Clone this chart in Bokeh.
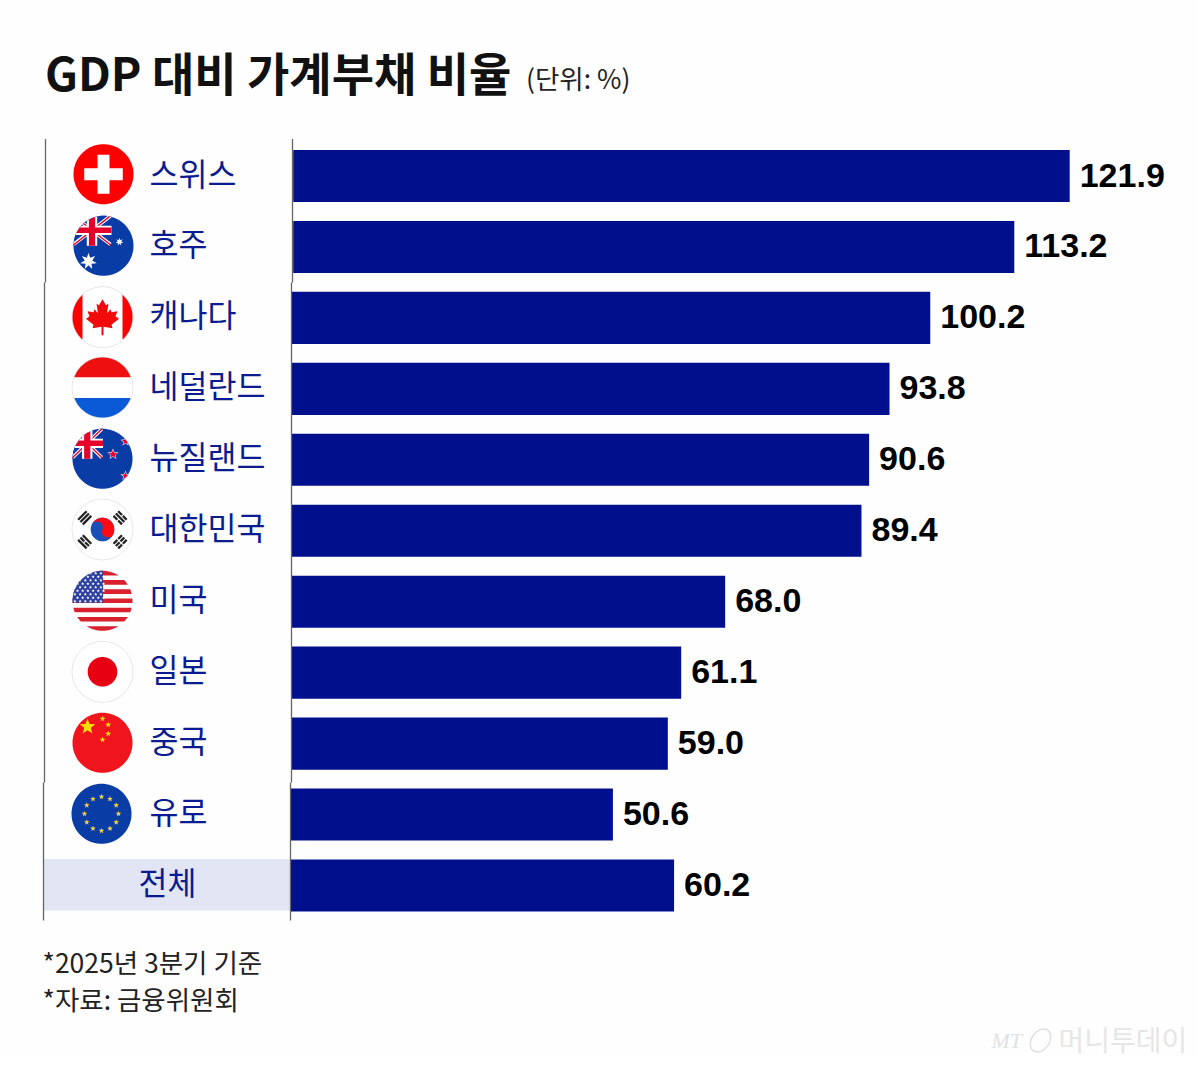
import numpy as np
from bokeh.plotting import figure
from bokeh.models import Range1d
from bokeh.core.properties import value
from bokeh.embed import file_html
from bokeh.resources import INLINE

countries = ["스위스", "호주", "캐나다", "네덜란드", "뉴질랜드", "대한민국", "미국", "일본", "중국", "유로", "전체"]
ratios = [121.9, 113.2, 100.2, 93.8, 90.6, 89.4, 68.0, 61.1, 59.0, 50.6, 60.2]
title_text = "GDP 대비 가계부채 비율"
unit_text = "(단위: %)"
notes = ["*2025년 3분기 기준", "*자료: 금융위원회"]
flag_codes = ["ch", "au", "ca", "nl", "nz", "kr", "us", "jp", "cn", "eu"]

W, H = 1195, 1057
OX, OY = 0, 0
BAR0 = 291.5
PX_PER_UNIT = 6.37
ROW0, ROW_STEP = 175.5, 70.95
NAVY = "#00108c"
LABEL = "#0a1c8f"
BG = "#fefefe"

rows = list(range(len(countries)))
# the original artwork is stitched from pieces, each nudged sideways by about a pixel
nudge_px = np.array([1.2, 1.2, 0, 0, 0, 0, 0, 0, 0, -1.4, -1.4])
left = nudge_px / PX_PER_UNIT
right = np.array(ratios) + left

p = figure(width=W, height=H, output_backend="svg", toolbar_location=None,
           x_range=Range1d((OX - BAR0) / PX_PER_UNIT, (OX + W - BAR0) / PX_PER_UNIT),
           y_range=Range1d((OY + H - ROW0) / ROW_STEP, (OY - ROW0) / ROW_STEP),
           min_border=0, outline_line_color=None, background_fill_color=BG, border_fill_color=BG)
p.axis.visible = False
p.grid.visible = False
p.extra_x_ranges["px"] = Range1d(OX, OX + W)
p.extra_y_ranges["px"] = Range1d(OY + H, OY)
PX = dict(x_range_name="px", y_range_name="px")

# total row band
p.quad(left=[43.5], right=[290], top=[858.5], bottom=[910], fill_color="#e2e5f3", line_color=None, **PX)

# bars
p.hbar(y=rows, left=left, right=right, height=0.735, fill_color=NAVY, line_color=None)

# frame lines (the original is slightly stepped)
for xs_, y0, y1 in [((45, 292), 138.5, 282), ((44, 291), 282, 782), ((43, 290), 782, 920)]:
    for x_ in xs_:
        p.line([x_, x_], [y0, y1], line_color="#666666", line_width=1.3, **PX)

# value labels
p.text(x=right, y=rows, text=[f"{v:.1f}" for v in ratios], x_offset=10, y_offset=-1,
       text_font=value("Liberation Sans"), text_font_style="bold", text_font_size="34px",
       text_color="#000000", text_baseline="middle", text_align="left")

# country labels
lbl_x = [149] * 10 + [167]
lbl_align = ["left"] * 10 + ["center"]
p.text(x=lbl_x, y=[ROW0 + ROW_STEP * i - 4.5 for i in rows], text=countries,
       text_font=value("Noto Sans CJK KR"), text_font_size="31.5px", text_color=LABEL,
       text_baseline="middle", text_align=lbl_align, **PX)

# title etc.
p.text(x=[44.5], y=[70], text=[title_text], text_font=value("Noto Sans CJK KR"), text_font_style="bold",
       text_font_size="46px", text_color="#111111", text_baseline="middle", **PX)
p.text(x=[525.5], y=[77], text=[unit_text], text_font=value("Noto Sans CJK KR"),
       text_font_size="26.5px", text_color="#222222", text_baseline="middle", **PX)
p.text(x=[42, 42], y=[961, 998], text=notes, text_font=value("Noto Sans CJK KR"),
       text_font_size="26.5px", text_color="#222222", text_baseline="middle", **PX)

# watermark
p.text(x=[991], y=[1040], text=["MT"], text_font=value("Liberation Serif"), text_font_style="italic",
       text_font_size="22px", text_color="#e2e2e2", text_baseline="middle", **PX)
p.ellipse(x=[1040], y=[1040], width=18, height=25, angle=-0.6, fill_color=None, line_color="#e0e0e0",
          line_width=1.5, **PX)
p.text(x=[1058], y=[1038], text=["머니투데이"], text_font=value("Noto Sans CJK KR"),
       text_font_size="28px", text_color="#e6e6e6", text_baseline="middle", **PX)

# ---------- flags: polygons clipped to a circular outline ----------
R = 30.0
_t = np.linspace(0, 2 * np.pi, 96, endpoint=False)
CIRCLE = [(R * np.cos(a), R * np.sin(a)) for a in _t]


def clip(poly):
    """Sutherland-Hodgman against the convex circle polygon."""
    out = list(poly)
    n = len(CIRCLE)
    for i in range(n):
        a, b = CIRCLE[i], CIRCLE[(i + 1) % n]
        inp, out = out, []
        if not inp:
            break
        def side(q):
            return (b[0] - a[0]) * (q[1] - a[1]) - (b[1] - a[1]) * (q[0] - a[0])
        s = inp[-1]
        for e in inp:
            se, ss = side(e), side(s)
            if (se >= 0) != (ss >= 0):
                f = ss / (ss - se)
                out.append((s[0] + f * (e[0] - s[0]), s[1] + f * (e[1] - s[1])))
            if se >= 0:
                out.append(e)
            s = e
    return out


def rect(x0, y0, x1, y1):
    return [(x0, y0), (x1, y0), (x1, y1), (x0, y1)]


def star(cx, cy, r, n=5, inner=0.42, rot=-np.pi / 2):
    pts = []
    for k in range(2 * n):
        rr = r if k % 2 == 0 else r * inner
        a = rot + k * np.pi / n
        pts.append((cx + rr * np.cos(a), cy + rr * np.sin(a)))
    return pts


def band(p0, p1, w):
    (x0, y0), (x1, y1) = p0, p1
    d = np.hypot(x1 - x0, y1 - y0)
    nx, ny = -(y1 - y0) / d * w / 2, (x1 - x0) / d * w / 2
    return [(x0 + nx, y0 + ny), (x1 + nx, y1 + ny), (x1 - nx, y1 - ny), (x0 - nx, y0 - ny)]


def union_jack(x0, y0, x1, y1, blue):
    c = [(rect(x0, y0, x1, y1), blue)]
    xm, ym = (x0 + x1) / 2, (y0 + y1) / 2
    def cl(poly):
        return [(min(max(a, x0), x1), min(max(b, y0), y1)) for a, b in poly]
    c.append((cl(band((x0, y0), (x1, y1), 7)), "#ffffff"))
    c.append((cl(band((x0, y1), (x1, y0), 7)), "#ffffff"))
    c.append((cl(band((x0, y0), (x1, y1), 2.6)), "#e4002b"))
    c.append((cl(band((x0, y1), (x1, y0), 2.6)), "#e4002b"))
    c.append((rect(xm - 5.2, y0, xm + 5.2, y1), "#ffffff"))
    c.append((rect(x0, ym - 4.6, x1, ym + 4.6), "#ffffff"))
    c.append((rect(xm - 3.1, y0, xm + 3.1, y1), "#e4002b"))
    c.append((rect(x0, ym - 2.7, x1, ym + 2.7), "#e4002b"))
    return c


def flag(code):
    full = rect(-31, -31, 31, 31)
    s = []
    edge = None
    if code == "ch":
        s = [(full, "#fe0000"), (rect(-19.3, -6, 19.3, 6), "#ffffff"), (rect(-6, -19.5, 6, 19.5), "#ffffff")]
    elif code == "au":
        blue = "#0a3ca6"
        s = [(full, blue)] + union_jack(-31, -31, 8, 0, blue)
        s += [(star(-15, 15.5, 8.5, 7, 0.45), "#ffffff"), (star(16, -4, 4, 7, 0.45), "#ffffff")]
    elif code == "ca":
        half = [(0, -18), (3.5, -12), (6, -13.5), (4.5, -4), (8, -8), (9, -5), (15, -6), (13, -1),
                (16.5, 1.5), (9, 7.5), (10, 11), (1, 9.5), (1, 18)]
        leaf = half + [(-a, b) for a, b in reversed(half)]
        s = [(full, "#ffffff"), (rect(-31, -31, -20, 31), "#fe0000"), (rect(20, -31, 31, 31), "#fe0000"),
             (leaf, "#f00a0a")]
        edge = "#dddddd"
    elif code == "nl":
        s = [(rect(-31, -31, 31, -10), "#ee1010"), (rect(-31, -10, 31, 10.5), "#ffffff"),
             (rect(-31, 10.5, 31, 31), "#0a5ad8")]
        edge = "#dddddd"
    elif code == "nz":
        blue = "#0a3ca6"
        s = [(full, blue)] + union_jack(-31, -31, 0.5, 0, blue)
        for (cx, cy, r) in [(10.5, -4.5, 4.6), (23, -17.5, 4), (23, 17, 4)]:
            s += [(star(cx, cy, r + 1.3), "#ffffff"), (star(cx, cy, r), "#e4002b")]
    elif code == "kr":
        s = [(full, "#ffffff")]
        edge = "#dddddd"
        r = 11.8
        ang = np.deg2rad(22)
        pts = []
        for a in np.linspace(np.pi, 2 * np.pi, 40):
            pts.append((r * np.cos(a), r * np.sin(a)))
        for a in np.linspace(0, np.pi, 20):
            pts.append((r / 2 + r / 2 * np.cos(a), r / 2 * np.sin(a)))
        for a in np.linspace(0, -np.pi, 20):
            pts.append((-r / 2 + r / 2 * np.cos(a), r / 2 * np.sin(a)))
        rot = [(a * np.cos(ang) - b * np.sin(ang), a * np.sin(ang) + b * np.cos(ang)) for a, b in pts]
        disc = [(r * np.cos(a), r * np.sin(a)) for a in _t]
        s += [(disc, "#1a4fb8"), (rot, "#fe0a14")]
        for cx, cy, sign, broken in [(-17.8, -11.7, 1, (0, 0, 0)), (17.6, -11.7, -1, (1, 0, 1)),
                                     (-17.8, 12.3, -1, (0, 1, 0)), (17.6, 12.3, 1, (1, 1, 1))]:
            dirx = np.array([np.cos(np.deg2rad(-45 * sign)), np.sin(np.deg2rad(-45 * sign))])
            nrm = np.array([-dirx[1], dirx[0]])
            for k, b in zip((-3.3, 0, 3.3), broken):
                c = np.array([cx, cy]) + nrm * k
                if b:
                    for e0, e1 in [(-6, -0.6), (0.6, 6)]:
                        s.append((band(tuple(c + dirx * e0), tuple(c + dirx * e1), 2.3), "#222222"))
                else:
                    s.append((band(tuple(c - dirx * 6), tuple(c + dirx * 6), 2.3), "#222222"))
    elif code == "us":
        s = [(full, "#ffffff")]
        sh = 60 / 13
        for k in range(0, 13, 2):
            s.append((rect(-31, -30 + k * sh, 31, -30 + (k + 1) * sh), "#d8202f"))
        s.append((rect(-31, -31, 0.6, 2), "#2b3f9f"))
        for row in range(9):
            off = 0 if row % 2 == 0 else 2.6
            for col in range(6):
                s.append((star(-27.6 + off + col * 5.2, -27.5 + row * 3.5, 1.8), "#ffffff"))
    elif code == "jp":
        s = [(full, "#ffffff"), ([(14.8 * np.cos(a), 14.8 * np.sin(a)) for a in _t], "#e60012")]
        edge = "#dddddd"
    elif code == "cn":
        s = [(full, "#f0141c"), (star(-15, -16, 8.2), "#ffe000")]
        for cx, cy in [(0, -24), (5.7, -18), (5.7, -9), (0, -3)]:
            s.append((star(cx, cy, 3.1), "#ffe000"))
    elif code == "eu":
        s = [(full, "#0a3ca6")]
        for k in range(12):
            a = k * np.pi / 6
            s.append((star(17 * np.cos(a), 17 * np.sin(a), 3), "#f2d040"))
    return s, edge


centres = [(103, 173.7), (103, 245.3), (102, 316.7), (102, 387), (102, 458.3), (102, 529),
           (102, 600.3), (102, 671.3), (102, 742.3), (101, 813.3)]
fx, fy, fc = [], [], []
for code, (cx, cy) in zip(flag_codes, centres):
    shapes, edge = flag(code)
    for poly, col in shapes:
        q = clip(poly)
        if len(q) < 3:
            continue
        fx.append([cx + a for a, _ in q])
        fy.append([cy + b for _, b in q])
        fc.append(col)
    if edge:
        rr = 30.3
        p.line([cx + rr * np.cos(a) for a in list(_t) + [0]], [cy + rr * np.sin(a) for a in list(_t) + [0]],
               line_color=edge, line_width=1, **PX)
p.patches(xs=fx, ys=fy, fill_color=fc, line_color=None, **PX)

open("out.html", "w").write(file_html(p, INLINE))
